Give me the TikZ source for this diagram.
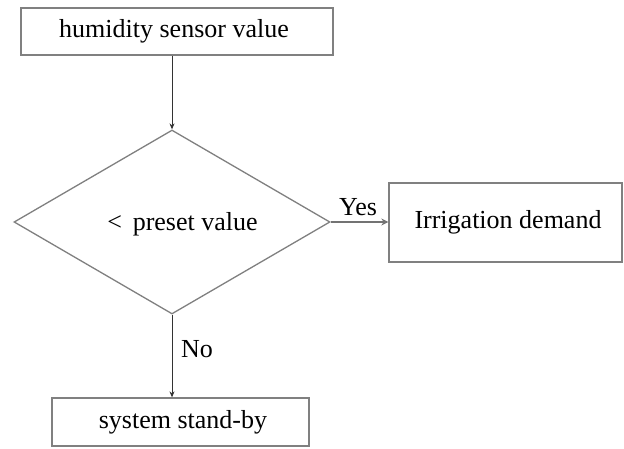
\documentclass[tikz,border=0pt]{standalone}
\usepackage{fontspec}
\setmainfont{Liberation Serif}
\usetikzlibrary{shapes.geometric,arrows.meta}
\begin{document}
\begin{tikzpicture}[x=1pt,y=-1pt,
  box/.style={draw=black!50,line width=1.3pt,fill=white,rectangle,inner sep=0pt,font=\fontsize{26}{30}\selectfont},
  dec/.style={draw=black!50,line width=1.3pt,diamond,inner sep=0pt},
  arr/.style={draw=black!80,line width=0.9pt,-{Stealth[length=6pt,width=5pt]}},
  garr/.style={draw=black!55,line width=1.3pt,-{Stealth[length=7pt,width=7pt,open]}},
  lbl/.style={inner sep=0pt,font=\fontsize{26}{30}\selectfont}]
\useasboundingbox (0,0) rectangle (624,448);
\fill[white] (0,0) rectangle (624,448);
\node[box,minimum width=312pt,minimum height=47pt] (top) at (177,31.5) {};
\node[lbl] (toptext) at (174,31.5) {humidity sensor value};
\node[dec,minimum width=316pt,minimum height=184pt] (dia) at (172,222) {};
\node[lbl] (dtext) at (182.5,224) {<\, preset value};
\node[box,minimum width=233pt,minimum height=79pt] (irr) at (505.5,222.5) {};
\node[lbl] (irrtext) at (508,222.5) {Irrigation demand};
\node[box,minimum width=257pt,minimum height=48pt] (sb) at (180.5,422) {};
\node[lbl] (sbtext) at (183,422) {system stand-by};
\draw[arr] (top.south -| dia.north) -- (dia.north);
\draw[garr] (dia.east) -- (dia.east -| irr.west);
\draw[arr] (dia.south) -- (dia.south |- sb.north);
\node[lbl] (yes) at (358,207) {Yes};
\node[lbl] (no) at (197,349) {No};
\end{tikzpicture}
\end{document}
